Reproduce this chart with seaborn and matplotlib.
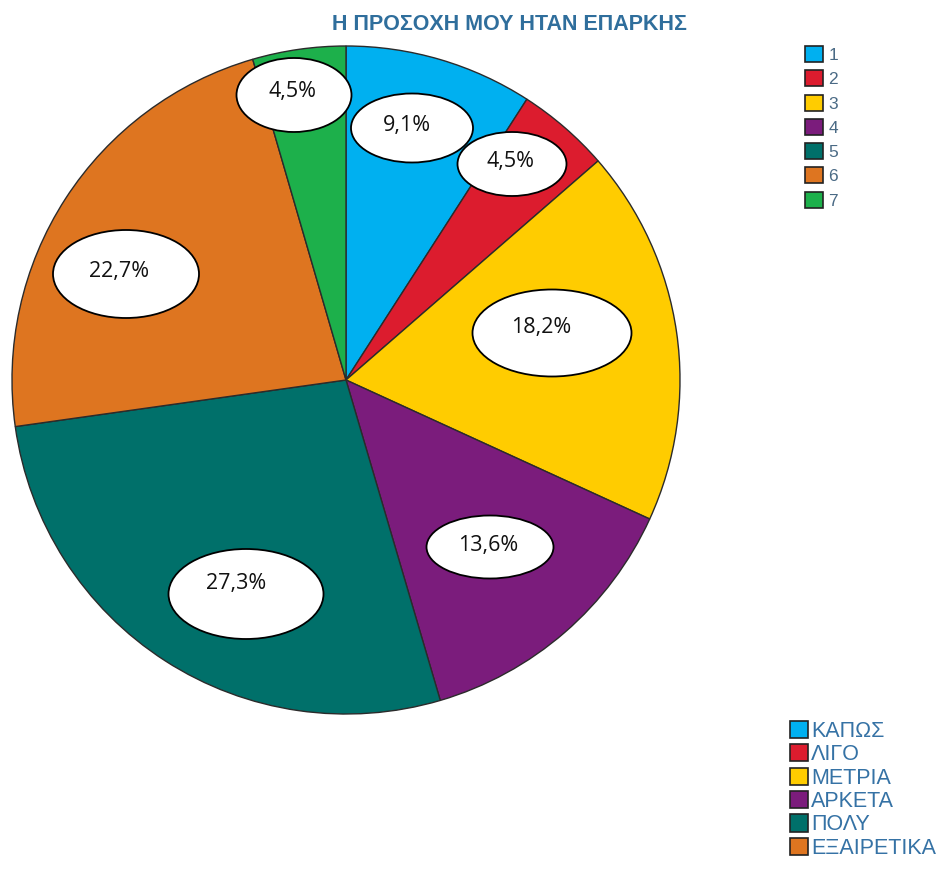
import matplotlib
matplotlib.use("Agg")
import matplotlib.pyplot as plt
import seaborn as sns
from matplotlib.patches import Ellipse, Patch

# ---- data ----
codes = ["1", "2", "3", "4", "5", "6", "7"]
categories = ["ΚΑΠΩΣ", "ΛΙΓΟ", "ΜΕΤΡΙΑ", "ΑΡΚΕΤΑ", "ΠΟΛΥ", "ΕΞΑΙΡΕΤΙΚΑ"]
percent = [9.1, 4.5, 18.2, 13.6, 27.3, 22.7, 4.5]
pct_labels = ["9,1%", "4,5%", "18,2%", "13,6%", "27,3%", "22,7%", "4,5%"]
title = "Η ΠΡΟΣΟΧΗ ΜΟΥ ΗΤΑΝ ΕΠΑΡΚΗΣ"

sns.set_theme(style="white")
plt.rcParams['font.family'] = ['Liberation Sans', 'DejaVu Sans']

colors = sns.color_palette(["#00B0F0", "#DC1C2E", "#FFCC00", "#7B1C7C",
                            "#00706A", "#DE7520", "#1DB04B"])

W, H = 938, 874
fig = plt.figure(figsize=(W / 100, H / 100), dpi=100)
ax = fig.add_axes([0, 0, 1, 1])

ax.pie(percent, colors=colors, startangle=90, counterclock=False,
       center=(346, H - 380), radius=334,
       wedgeprops=dict(edgecolor="#2b2b2b", linewidth=1.0))
ax.set_xlim(0, W)
ax.set_ylim(0, H)
ax.set_aspect("equal")
ax.axis("off")

# label ellipses (layout in pixel coords: ellipse x, y-from-top, w, h, text x, text y)
label_layout = [(412, 128, 122, 69, 407, 126),
                (512, 164, 109, 64, 510, 162),
                (552, 333, 159, 87, 541, 327),
                (490, 547, 127, 63, 488, 546),
                (246, 594, 155, 90, 236, 583),
                (126, 274, 146, 88, 119, 271),
                (294, 95, 115, 74, 292, 92)]
for (x, y, w, h, tx, ty), t in zip(label_layout, pct_labels):
    ax.add_patch(Ellipse((x, H - y), w, h, facecolor="white",
                         edgecolor="black", linewidth=1.3, zorder=5))
    ax.text(tx, H - ty, t, ha="center", va="center", fontsize=15.5,
            family=["Open Sans", "DejaVu Sans"], color="#111111", zorder=6)

fig.text(509 / W, 1 - 25 / H, title, ha="center", va="center",
         fontsize=15.5, fontweight="bold", color="#2F6E9C")

# legend 1 (codes)
h1 = [Patch(facecolor=c, edgecolor="#222222", linewidth=1.2) for c in colors]
leg1 = fig.legend(h1, codes, loc="upper left", bbox_to_anchor=(805 / W, 1 - 46 / H),
                  frameon=False, fontsize=12.5, handlelength=1.05, handleheight=1.05,
                  handletextpad=0.3, labelspacing=0.42, borderpad=0, borderaxespad=0)
for t in leg1.get_texts():
    t.set_color("#4A6A85")

# legend 2 (categories)
h2 = [Patch(facecolor=c, edgecolor="#222222", linewidth=1.2) for c in colors[:6]]
leg2 = fig.legend(h2, categories, loc="upper left", bbox_to_anchor=(790 / W, 1 - 721 / H),
                  frameon=False, fontsize=15.5, handlelength=0.84, handleheight=0.84,
                  handletextpad=0.15, labelspacing=0.11, borderpad=0, borderaxespad=0)
for t in leg2.get_texts():
    t.set_color("#3572A5")

fig.savefig("out.png", dpi=100)
